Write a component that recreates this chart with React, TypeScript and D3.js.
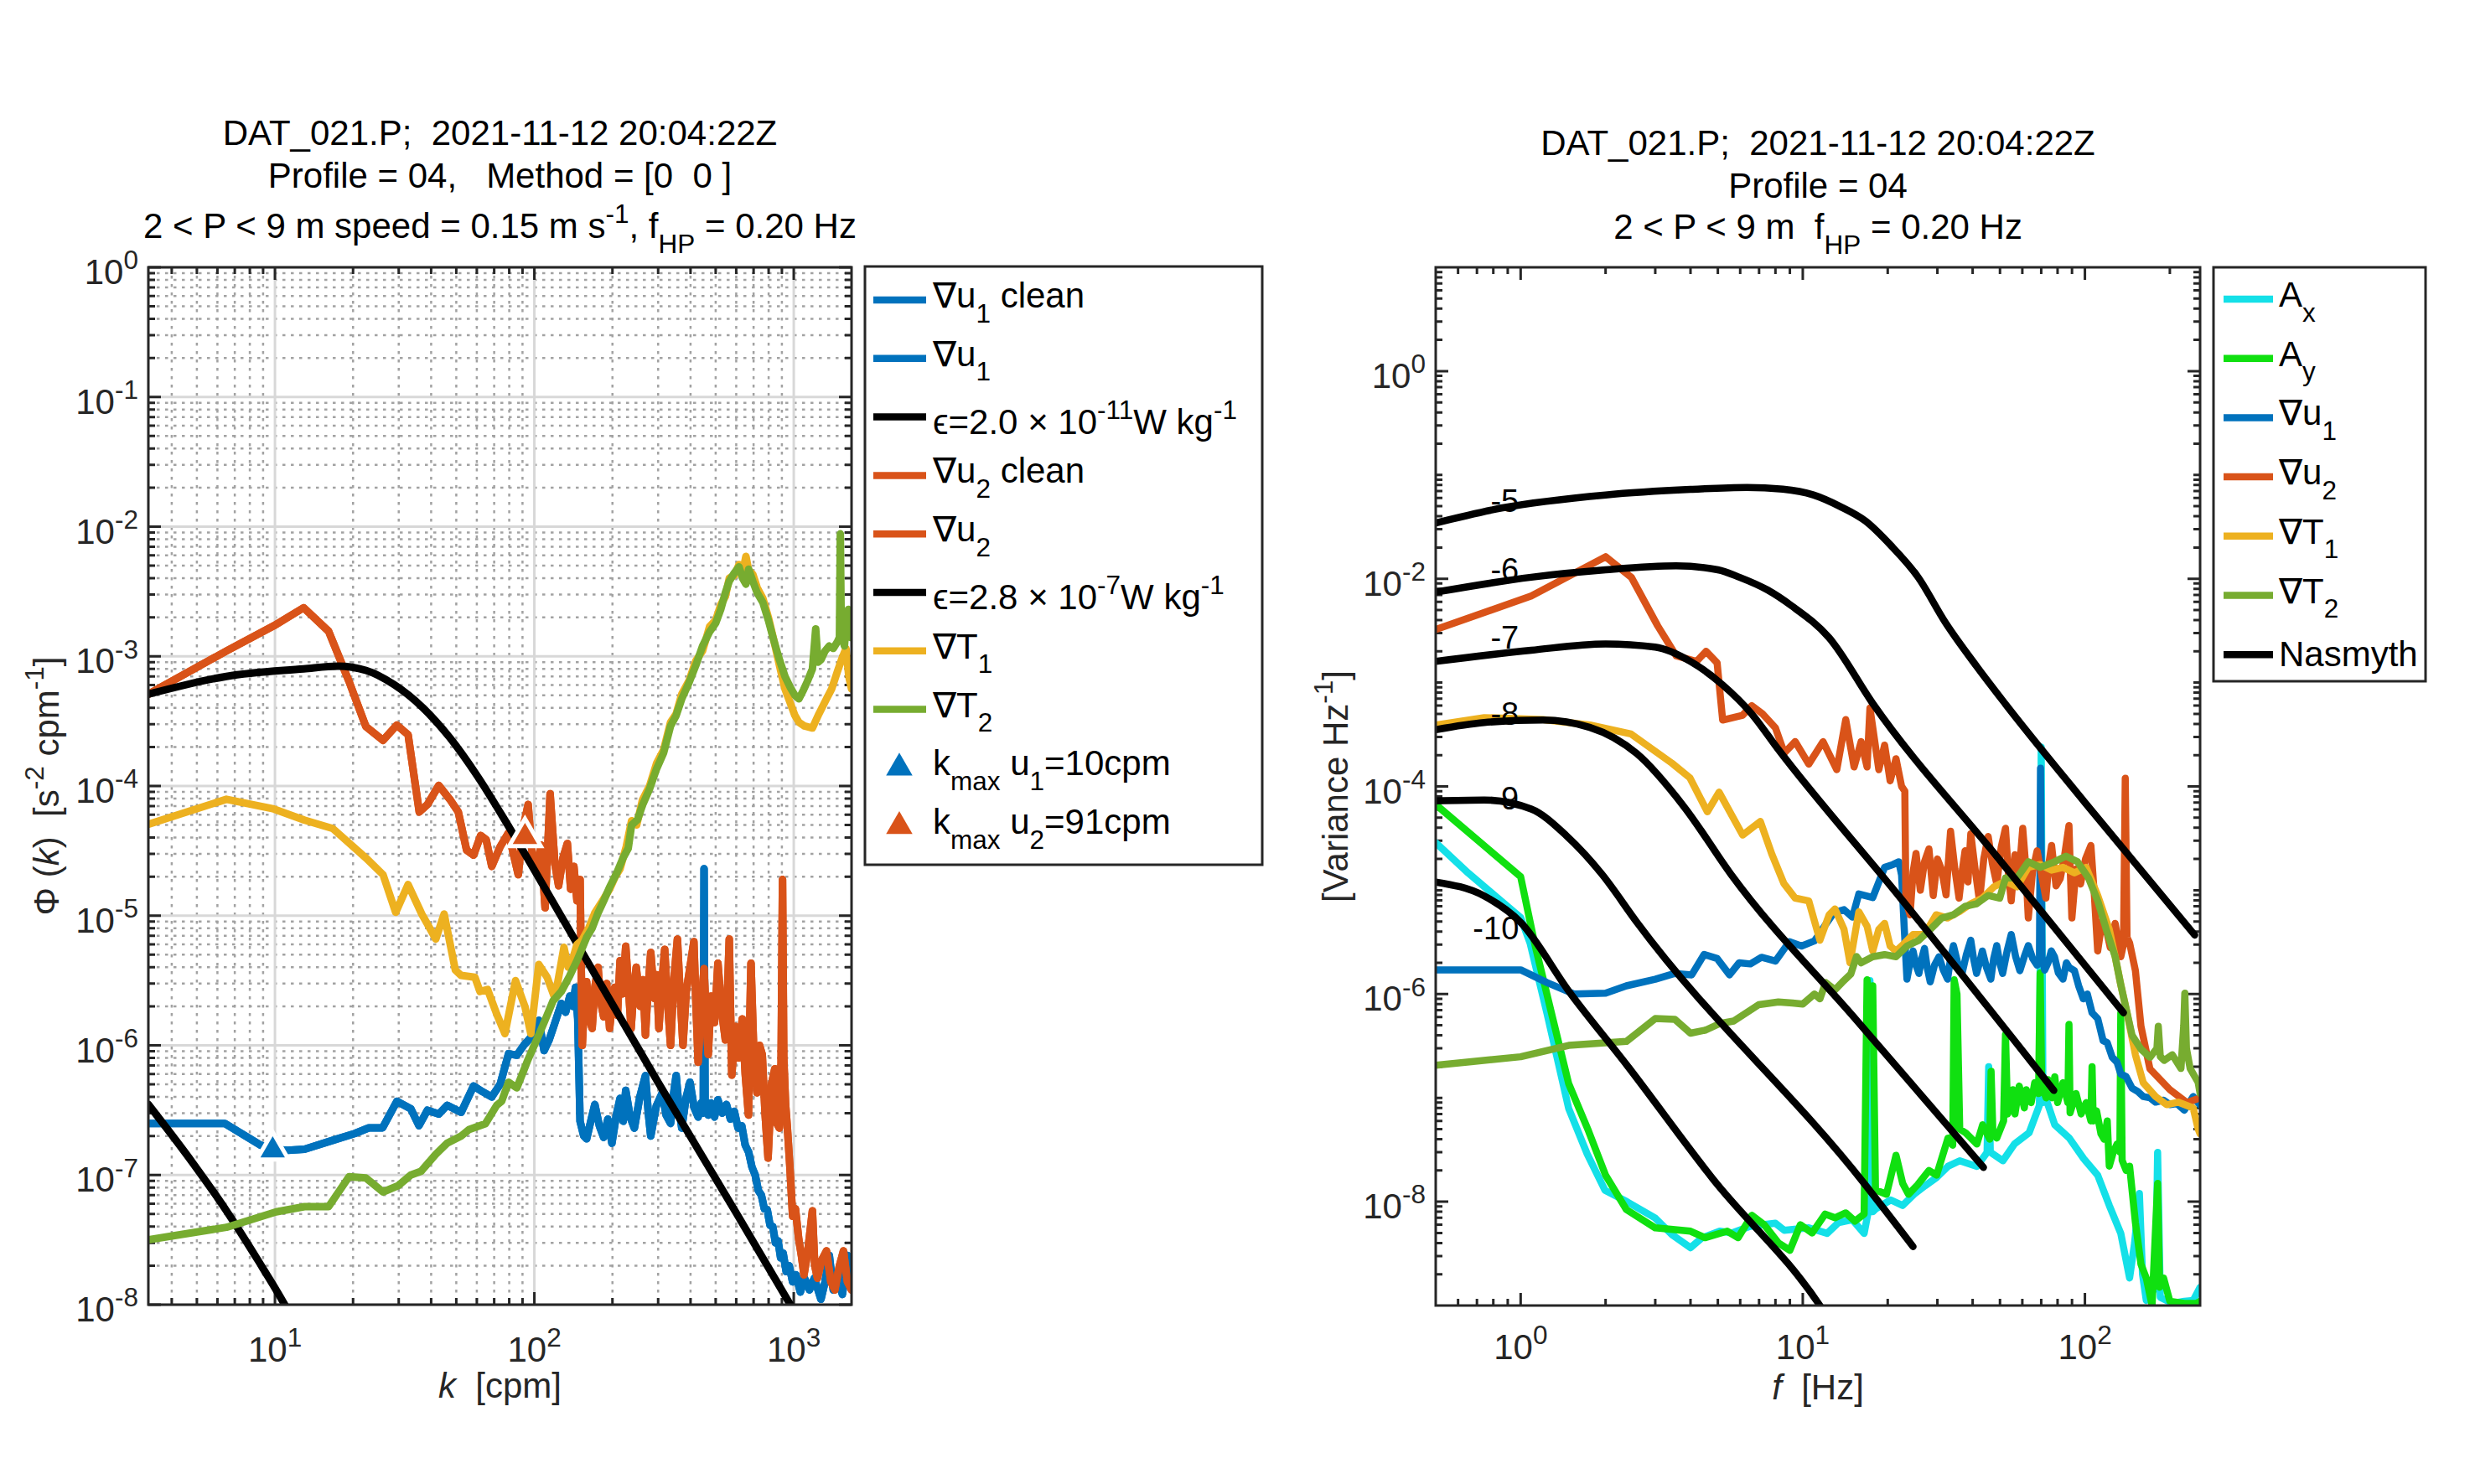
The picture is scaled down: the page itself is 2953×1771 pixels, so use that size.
import React from "react";
import * as d3 from "d3";

type Pt = [number, number];

// ---------------- left panel: wavenumber spectra ----------------
const leftTitle = [
  "DAT\\_021.P;  2021-11-12 20:04:22Z",
  "Profile = 04,   Method = [0  0 ]",
  "2 < P < 9 m speed = 0.15 m s^{-1}, f_{HP} = 0.20 Hz",
];
const kRange = [3.25, 1670];
const phiRange = [1e-8, 1];

const gradU1K: Pt[] = [
  [3.25, 2.5e-7], [6.4, 2.5e-7], [8.75, 1.71e-7], [9.7, 1.58e-7], [11.2, 1.55e-7], [13.0, 1.58e-7],
  [16.7, 1.85e-7], [20.3, 2.09e-7], [23.0, 2.31e-7], [26.0, 2.31e-7], [29.5, 3.7e-7], [33.4, 3.24e-7],
  [35.9, 2.4e-7], [38.7, 3.16e-7], [42.8, 2.95e-7], [46.1, 3.45e-7], [52.2, 3.04e-7], [58.3, 4.86e-7],
  [63, 4.4e-7], [68.5, 4.0e-7], [73.8, 5.0e-7], [79.5, 8.6e-7], [85.6, 8.4e-7], [91, 1.0e-6],
  [96.9, 1.15e-6], [104, 1.56e-6], [109, 9.1e-7], [114, 1.1e-6], [118, 1.35e-6], [127, 2.1e-6],
  [132, 1.8e-6], [137, 2.4e-6], [141, 2.0e-6], [144, 2.8e-6], [147, 1.6e-6], [150, 2.6e-7],
  [155, 2.0e-7], [159, 1.9e-7], [165, 2.6e-7], [171, 3.5e-7], [178, 2.4e-7], [185, 1.95e-7],
  [192, 2.7e-7], [199, 1.76e-7], [207, 2.9e-7], [214, 3.9e-7], [220, 2.6e-7], [225, 4.5e-7],
  [234, 2.8e-7], [243, 2.3e-7], [255, 4.0e-7], [268, 5.85e-7], [275, 3.0e-7], [281, 2.0e-7],
  [295, 3.4e-7], [311, 4.3e-7], [322, 2.9e-7], [335, 2.5e-7], [344, 4.2e-7], [352, 5.85e-7],
  [361, 3.3e-7], [370, 2.3e-7], [384, 3.9e-7], [398, 5.2e-7], [413, 3.3e-7], [428, 2.8e-7],
  [440, 3.6e-7], [448, 3.0e-7], [451, 2.3e-5], [455, 3.4e-7], [468, 2.9e-7], [480, 3.6e-7],
  [495, 2.8e-7], [510, 3.8e-7], [530, 3.0e-7], [550, 3.5e-7], [570, 2.7e-7], [590, 3.1e-7],
  [610, 2.3e-7], [630, 2.4e-7], [650, 1.7e-7], [670, 1.5e-7], [690, 1.15e-7], [710, 1.0e-7],
  [730, 7.6e-8], [750, 7.0e-8], [770, 5.5e-8], [790, 5.4e-8], [810, 4.1e-8], [830, 4.0e-8],
  [850, 3.0e-8], [870, 3.1e-8], [890, 2.3e-8], [910, 2.5e-8], [935, 1.8e-8], [960, 2.0e-8],
  [990, 1.5e-8], [1020, 1.7e-8], [1060, 1.25e-8], [1100, 1.6e-8], [1150, 1.3e-8], [1200, 1.6e-8],
  [1273, 1.1e-8], [1320, 1.5e-8], [1371, 2.4e-8], [1420, 1.3e-8], [1478, 1.6e-8], [1540, 1.2e-8],
  [1611, 2.4e-8], [1670, 1.7e-8],
];

const gradU2K: Pt[] = [
  [3.25, 5.1e-4], [6.5, 1.1e-3], [9.9, 1.72e-3], [12.9, 2.37e-3], [16.1, 1.56e-3], [19.3, 6.4e-4],
  [22.4, 2.88e-4], [26.1, 2.25e-4], [29.5, 2.95e-4], [32.6, 2.48e-4], [36.0, 6.3e-5], [38.7, 7.2e-5],
  [42.8, 1.01e-4], [47.2, 7.9e-5], [50.9, 6.3e-5], [54.8, 3.2e-5], [58.3, 2.93e-5], [62.1, 4.15e-5],
  [65.2, 3.85e-5], [68.5, 2.4e-5], [73.8, 3.4e-5], [79.5, 4.36e-5], [83, 3.0e-5], [86.7, 2.07e-5],
  [90, 4.5e-5], [94.6, 7.2e-5], [98, 3.0e-5], [102, 2.2e-5], [106, 3.5e-5], [110, 1.15e-5],
  [115, 8.7e-5], [120, 2.5e-5], [124, 1.7e-5], [129, 2.8e-5], [134, 3.6e-5], [138, 1.6e-5],
  [142, 2.4e-5], [146, 1.3e-5], [150, 1.9e-5], [153, 1.0e-6], [156, 2.2e-6], [159, 3.1e-6],
  [163, 1.6e-6], [167, 1.35e-6], [171, 2.8e-6], [176, 4.0e-6], [180, 2.2e-6], [185, 1.66e-6],
  [190, 3.0e-6], [195, 1.35e-6], [200, 2.2e-6], [204, 2.8e-6], [209, 1.7e-6], [214, 4.5e-6],
  [219, 2.5e-6], [225, 5.8e-6], [230, 3.0e-6], [236, 1.35e-6], [241, 2.5e-6], [247, 4.0e-6],
  [256, 2.0e-6], [262, 3.2e-6], [268, 1.2e-6], [274, 2.6e-6], [281, 5.2e-6], [290, 2.3e-6],
  [296, 3.5e-6], [302, 1.35e-6], [310, 3.0e-6], [318, 5.5e-6], [326, 2.2e-6], [335, 1.0e-6],
  [345, 3.2e-6], [356, 6.6e-6], [365, 2.4e-6], [374, 1.0e-6], [385, 2.6e-6], [398, 4.0e-6],
  [412, 6.3e-6], [420, 2.0e-6], [428, 7.4e-7], [440, 2.2e-6], [451, 3.9e-6], [460, 1.5e-6],
  [468, 8.5e-7], [480, 2.4e-6], [495, 1.5e-6], [510, 4.3e-6], [528, 1.8e-6], [545, 1.1e-6],
  [555, 2.5e-6], [564, 6.6e-6], [570, 2.0e-6], [577, 5.9e-7], [595, 1.4e-6], [612, 8.0e-7],
  [633, 1.6e-6], [650, 6.0e-7], [669, 2.9e-7], [676, 1.4e-6], [684, 4.3e-6], [700, 1.0e-6],
  [721, 4.3e-7], [738, 1.0e-6], [756, 8.5e-7], [775, 3.0e-7], [796, 1.35e-7], [820, 5.0e-7],
  [845, 6.6e-7], [860, 2.5e-7], [880, 2.3e-7], [893, 6.0e-7], [905, 1.9e-5], [915, 8.0e-7],
  [930, 3.5e-7], [945, 2.3e-7], [965, 1.2e-7], [990, 4.8e-8], [1015, 5.5e-8], [1045, 3.2e-8],
  [1070, 2.4e-8], [1095, 1.7e-8], [1130, 2.5e-8], [1180, 5.3e-8], [1205, 2.0e-8], [1234, 1.6e-8],
  [1280, 2.2e-8], [1337, 2.6e-8], [1390, 1.5e-8], [1440, 1.3e-8], [1500, 2.0e-8], [1555, 2.6e-8],
  [1610, 1.5e-8], [1670, 1.3e-8],
];

const gradT1K: Pt[] = [
  [3.25, 5.06e-5], [6.5, 7.9e-5], [9.9, 6.65e-5], [13.0, 5.45e-5], [16.7, 4.7e-5], [22.4, 2.79e-5],
  [26.1, 2.07e-5], [29.2, 1.06e-5], [32.6, 1.74e-5], [36.8, 1.03e-5], [41.7, 6.6e-6], [44.9, 1.03e-5],
  [49.6, 3.8e-6], [52.2, 3.46e-6], [59, 3.35e-6], [61.7, 2.6e-6], [66, 2.7e-6], [71.6, 1.74e-6],
  [77, 1.23e-6], [84.6, 3.16e-6], [91.9, 2.0e-6], [96.9, 1.23e-6], [104, 4.2e-6], [112, 3.35e-6],
  [120, 2.3e-6], [130, 5.7e-6], [135, 4.0e-6], [140, 4.5e-6], [146, 6.0e-6], [153, 6.5e-6],
  [162, 8.0e-6], [171, 1.05e-5], [183, 1.3e-5], [195, 1.6e-5], [205, 2.0e-5], [214, 2.3e-5],
  [226, 3.4e-5], [237, 5.4e-5], [248, 5.0e-5], [261, 7.8e-5], [278, 1.0e-4], [296, 1.5e-4],
  [315, 1.9e-4], [335, 3.1e-4], [352, 3.6e-4], [370, 5.1e-4], [395, 6.5e-4], [419, 9.2e-4],
  [445, 1.1e-3], [474, 1.7e-3], [500, 1.9e-3], [523, 2.5e-3], [545, 2.9e-3], [564, 4.0e-3],
  [590, 4.2e-3], [615, 5.1e-3], [635, 4.4e-3], [654, 5.9e-3], [670, 4.6e-3], [695, 4.3e-3],
  [722, 3.4e-3], [760, 2.8e-3], [798, 2.0e-3], [840, 1.3e-3], [881, 8.5e-4], [925, 5.6e-4],
  [972, 4.3e-4], [1010, 3.5e-4], [1047, 3.1e-4], [1100, 2.9e-4], [1180, 2.8e-4], [1250, 3.6e-4],
  [1337, 4.7e-4], [1400, 5.6e-4], [1475, 7.7e-4], [1530, 9.5e-4], [1590, 1.15e-3], [1630, 7.0e-4],
  [1670, 5.6e-4],
];

const gradT2K: Pt[] = [
  [3.25, 3.17e-8], [6.5, 3.95e-8], [10.1, 5.2e-8], [13.0, 5.7e-8], [16.1, 5.7e-8], [19.3, 9.7e-8],
  [22.4, 9.5e-8], [26.1, 7.4e-8], [29.9, 8.3e-8], [33.4, 1.0e-7], [36.6, 1.07e-7], [41.6, 1.44e-7],
  [46.1, 1.76e-7], [52.2, 2.0e-7], [56.0, 2.24e-7], [64.8, 2.49e-7], [71.6, 3.45e-7], [74.8, 3.7e-7],
  [79.5, 5.2e-7], [85.6, 4.7e-7], [94.6, 7.8e-7], [102, 1.1e-6], [109, 1.5e-6], [118, 2.2e-6],
  [127, 2.6e-6], [137, 3.45e-6], [146, 4.5e-6], [159, 6.8e-6], [167, 8.0e-6], [176, 1.05e-5],
  [185, 1.3e-5], [195, 1.66e-5], [207, 2.1e-5], [220, 2.8e-5], [230, 3.3e-5], [237, 5.0e-5],
  [250, 5.5e-5], [261, 7.1e-5], [278, 9.5e-5], [296, 1.36e-4], [315, 1.8e-4], [335, 2.9e-4],
  [352, 3.5e-4], [370, 4.7e-4], [395, 6.3e-4], [419, 8.5e-4], [445, 1.2e-3], [474, 1.55e-3],
  [500, 1.8e-3], [523, 2.3e-3], [545, 3.1e-3], [564, 3.8e-3], [590, 4.4e-3], [615, 4.9e-3],
  [635, 4.0e-3], [654, 3.6e-3], [670, 4.7e-3], [695, 3.8e-3], [722, 3.1e-3], [760, 2.6e-3],
  [798, 1.9e-3], [840, 1.3e-3], [881, 9.4e-4], [925, 7.0e-4], [972, 5.7e-4], [1010, 5.0e-4],
  [1047, 4.7e-4], [1090, 5.5e-4], [1128, 6.4e-4], [1180, 8.0e-4], [1215, 1.63e-3], [1240, 9.0e-4],
  [1273, 9.4e-4], [1320, 1.1e-3], [1370, 1.2e-3], [1420, 1.15e-3], [1475, 1.3e-3], [1500, 1.4e-3],
  [1512, 8.8e-3], [1525, 1.5e-3], [1568, 1.2e-3], [1600, 2.0e-3], [1623, 2.3e-3], [1650, 1.4e-3],
  [1670, 1.6e-3],
];

const nasmythLowK: Pt[] = [
  [3.25, 3.5e-7], [4.82, 1.24e-7], [6.5, 5.3e-8], [8.6, 2.2e-8], [10.9, 1.0e-8], [12.5, 6e-9],
];
const nasmythHighK: Pt[] = [
  [3.25, 5.1e-4], [6.5, 7.0e-4], [12.9, 8.0e-4], [17.5, 8.4e-4], [22.4, 7.8e-4], [28.8, 6.05e-4],
  [36.9, 4.07e-4], [47.2, 2.36e-4], [60.5, 1.18e-4], [77.6, 5.3e-5], [99.3, 2.3e-5], [144, 6.4e-6],
  [303, 5.0e-7], [600, 5.1e-8], [970, 1.0e-8], [1100, 6.5e-9],
];

const kmaxK = [9.8, 92];
const kmaxPhi = [1.55e-7, 4.05e-5];

const leftLegendLabels = [
  "∇u_{1} clean", "∇u_{1}", "ϵ=2.0 × 10^{-11}W kg^{-1}", "∇u_{2} clean", "∇u_{2}",
  "ϵ=2.8 × 10^{-7}W kg^{-1}", "∇T_{1}", "∇T_{2}", "k_{max} u_{1}=10cpm", "k_{max} u_{2}=91cpm",
];

// ---------------- right panel: frequency spectra ----------------
const rightTitle = [
  "DAT\\_021.P;  2021-11-12 20:04:22Z",
  "Profile = 04",
  "2 < P < 9 m  f_{HP} = 0.20 Hz",
];
const fRange = [0.5, 256];
const varRange = [1e-9, 10];

const accXF: Pt[] = [
  [0.5, 2.87e-5], [0.653, 1.46e-5], [1.0, 5.45e-6], [1.08, 3.1e-6], [1.24, 6.5e-7], [1.48, 7.9e-8],
  [1.72, 2.9e-8], [1.99, 1.29e-8], [2.38, 1.0e-8], [3.0, 6.95e-9], [3.44, 4.8e-9], [4.0, 3.6e-9],
  [4.4, 4.5e-9], [5.08, 5.2e-9], [5.6, 5.0e-9], [6.5, 5.8e-9], [8.0, 6.2e-9], [8.6, 5.3e-9],
  [10.5, 5.6e-9], [12.2, 4.95e-9], [13.4, 6.3e-9], [15.0, 6.7e-9], [16.5, 4.95e-9], [17.0, 7.6e-9],
  [17.3, 1.35e-6], [17.7, 8e-9], [18.2, 8.6e-9], [20.5, 1.04e-8], [22.6, 9.2e-9], [24.8, 1.18e-8],
  [27.1, 1.42e-8], [29.8, 1.71e-8], [32.7, 2.19e-8], [36.0, 2.48e-8], [41.4, 2.19e-8], [45.0, 2.98e-8],
  [45.6, 2.0e-7], [46.2, 3.0e-8], [51.2, 2.48e-8], [56.3, 3.6e-8], [63.4, 4.6e-8], [69.0, 8.5e-8],
  [70.0, 2.4e-4], [71.0, 9e-8], [72.9, 9.7e-8], [78.2, 5.5e-8], [88, 4.1e-8], [99, 2.6e-8],
  [111, 1.8e-8], [122, 9.2e-9], [134, 4.95e-9], [144, 1.84e-9], [150, 4e-9], [156, 1.2e-8],
  [160, 2e-9], [165, 1.12e-9], [178, 1.5e-9], [181, 2.98e-8], [185, 1.2e-9], [204, 1.05e-9],
  [225, 1.1e-9], [242, 1.12e-9], [256, 1.5e-9],
];

const accYF: Pt[] = [
  [0.5, 6.7e-5], [1.0, 1.35e-5], [1.12, 3.1e-6], [1.3, 5.8e-7], [1.48, 1.37e-7], [1.74, 4.8e-8],
  [2.0, 1.8e-8], [2.37, 8.4e-9], [3.0, 5.6e-9], [4.0, 5.2e-9], [4.5, 4.5e-9], [5.4, 5.2e-9],
  [5.9, 4.5e-9], [6.6, 7.4e-9], [7.3, 6.0e-9], [8.2, 4.0e-9], [9.0, 3.4e-9], [9.8, 6.0e-9],
  [10.8, 5.0e-9], [12, 7.6e-9], [13, 7.0e-9], [14.2, 7.8e-9], [15.3, 6.5e-9], [16.5, 7.6e-9],
  [16.9, 1.37e-6], [17.3, 8e-7], [17.7, 1.2e-6], [18.1, 1.3e-8], [19.8, 1.18e-8], [21.4, 2.8e-8],
  [22.6, 1.5e-8], [23.7, 1.18e-8], [25.5, 1.45e-8], [28, 2.0e-8], [29.8, 1.8e-8], [32.7, 4.1e-8],
  [34.0, 3.5e-8], [34.4, 1.37e-6], [35.2, 1.0e-6], [36, 5e-8], [37.8, 4.6e-8], [41.4, 3.6e-8],
  [43.4, 5.5e-8], [46.0, 4.0e-8], [46.5, 1.8e-7], [47.2, 4.5e-8], [48.7, 4.1e-8], [51.5, 6.0e-8],
  [52.3, 4.1e-7], [53.2, 7.0e-8], [54.8, 8.5e-8], [55.5, 1.2e-7], [56.5, 7e-8], [58.5, 1.3e-7],
  [61, 8e-8], [62, 1.2e-7], [64.5, 9e-8], [66.4, 1.4e-7], [68.5, 1.1e-7], [69.4, 1.6e-6],
  [70.3, 1.3e-7], [72.9, 1.0e-7], [74, 1.5e-7], [76.5, 1.0e-7], [78.2, 1.6e-7], [80, 9e-8],
  [83.6, 1.4e-7], [87.0, 9e-8], [87.8, 5.1e-7], [88.6, 7.2e-8], [93, 1.1e-7], [97, 7e-8],
  [101, 9e-8], [105, 6e-8], [106, 2.0e-7], [107, 6e-8], [110, 7.5e-8], [114, 4.5e-8], [117, 4e-8],
  [120, 6e-8], [122, 2.2e-8], [126, 3e-8], [130, 3.6e-8], [133, 3e-8], [134, 6.6e-7], [135.5, 2.5e-8],
  [140, 2e-8], [144, 2.2e-8], [151, 6.3e-9], [158, 2.5e-9], [165, 1.84e-9], [173, 1.0e-9],
  [181, 1.5e-8], [184, 1.5e-9], [190, 1.84e-9], [200, 1.1e-9], [225, 1.05e-9], [248, 1.05e-9],
  [256, 1.1e-9],
];

const gradU1F: Pt[] = [
  [0.5, 1.71e-6], [1.0, 1.71e-6], [1.24, 1.29e-6], [1.55, 1.0e-6], [2.0, 1.02e-6], [2.37, 1.2e-6],
  [3.0, 1.39e-6], [3.52, 1.58e-6], [4.04, 1.53e-6], [4.47, 2.41e-6], [4.97, 2.2e-6], [5.5, 1.53e-6],
  [5.95, 2.0e-6], [6.52, 1.95e-6], [7.14, 2.26e-6], [8.0, 2.08e-6], [8.96, 3.19e-6], [9.9, 2.9e-6],
  [11.0, 3.25e-6], [12.0, 4.6e-6], [12.9, 6.1e-6], [14.0, 6.5e-6], [15.0, 5.5e-6], [15.8, 9.2e-6],
  [17.7, 8.5e-6], [19.5, 1.66e-5], [20.9, 1.77e-5], [21.9, 1.88e-5], [22.4, 1.4e-5], [22.9, 4.2e-6],
  [23.4, 1.39e-6], [24.0, 2.0e-6], [24.6, 2.6e-6], [25.2, 1.9e-6], [25.8, 1.58e-6], [26.4, 2.2e-6],
  [27.0, 2.75e-6], [27.6, 1.8e-6], [28.3, 1.31e-6], [29.3, 1.9e-6], [30.4, 2.29e-6], [31.5, 1.7e-6],
  [32.6, 1.39e-6], [33.4, 2.2e-6], [34.2, 2.93e-6], [35.4, 2.0e-6], [36.7, 1.58e-6], [38.0, 2.4e-6],
  [39.4, 3.3e-6], [40.3, 2.2e-6], [41.3, 1.58e-6], [42.3, 2.0e-6], [43.3, 2.6e-6], [44.8, 1.8e-6],
  [46.4, 1.39e-6], [47.5, 2.2e-6], [48.7, 2.93e-6], [49.9, 2.0e-6], [51.1, 1.58e-6], [53, 2.6e-6],
  [54.8, 3.75e-6], [56.8, 2.3e-6], [58.8, 1.68e-6], [61, 2.3e-6], [63.0, 2.93e-6], [65.3, 2.2e-6],
  [67.7, 1.9e-6], [69.0, 2.2e-6], [69.6, 1.5e-4], [70.4, 2.3e-6], [72, 1.7e-6], [74, 2.0e-6],
  [76, 2.6e-6], [78.0, 2.29e-6], [80.5, 1.6e-6], [83.6, 1.39e-6], [86, 2.0e-6], [88, 1.8e-6],
  [91.8, 1.68e-6], [95, 1.2e-6], [98.7, 9.0e-7], [102, 1.0e-6], [106, 6.6e-7], [111, 5.8e-7],
  [116, 3.56e-7], [120, 3.4e-7], [125, 2.46e-7], [130, 2.2e-7], [134, 1.7e-7], [140, 1.6e-7],
  [147, 1.24e-7], [154, 1.15e-7], [161, 1.03e-7], [170, 1.0e-7], [178, 9.1e-8], [190, 9.5e-8],
  [200, 8.6e-8], [212, 8.8e-8], [225, 7.6e-8], [242, 1.03e-7], [256, 8.5e-8],
];

const gradU2F: Pt[] = [
  [0.5, 3.24e-3], [1.09, 6.84e-3], [2.0, 0.0163], [2.47, 0.0103], [3.06, 3.52e-3], [3.56, 1.81e-3],
  [4.2, 1.6e-3], [4.54, 2.0e-3], [4.97, 1.55e-3], [5.2, 4.36e-4], [6.12, 4.85e-4], [6.59, 6.0e-4],
  [7.2, 5.0e-4], [8.0, 3.67e-4], [8.6, 2.1e-4], [9.4, 2.7e-4], [10.5, 1.64e-4], [11.8, 2.7e-4],
  [13.2, 1.45e-4], [14.2, 4.4e-4], [15.2, 1.54e-4], [16.1, 2.7e-4], [16.9, 1.54e-4], [17.3, 5.7e-4],
  [18.6, 1.45e-4], [19.5, 2.5e-4], [20.4, 1.13e-4], [21.4, 1.85e-4], [22.4, 1.0e-4], [23.0, 9e-5],
  [23.2, 7.9e-6], [24.0, 5.8e-6], [24.6, 1.5e-5], [25.2, 2.26e-5], [26.1, 1.0e-5], [27.0, 1.88e-5],
  [28.0, 2.5e-5], [29.0, 8.9e-6], [30.0, 2.0e-5], [31.1, 1.56e-5], [32.2, 9e-6], [33.4, 3.7e-5],
  [34.6, 1.6e-5], [35.8, 8.4e-6], [36.7, 1.5e-5], [37.6, 2.4e-5], [38.5, 1.2e-5], [39.4, 3.5e-5],
  [40.8, 1.6e-5], [42.3, 7.9e-6], [43.8, 2.0e-5], [45.4, 3.3e-5], [47.0, 1.8e-5], [48.7, 1.15e-5],
  [50.5, 2.6e-5], [52.3, 3.95e-5], [53.5, 1.5e-5], [54.8, 7.9e-6], [56.5, 2.2e-5], [58.3, 1.3e-5],
  [60.2, 3.95e-5], [61.6, 1.8e-5], [63.0, 5.4e-6], [65.2, 1.5e-5], [67.7, 2.4e-5], [70.2, 1.4e-5],
  [72.7, 8.4e-6], [74.5, 1.8e-5], [76.2, 2.7e-5], [79, 1.1e-5], [81.8, 1.3e-5], [84.8, 2.2e-5],
  [87.8, 4.2e-5], [88.8, 1.5e-5], [89.9, 5.4e-6], [93, 1.6e-5], [96.5, 1.15e-5], [100.5, 2.0e-5],
  [105, 2.7e-5], [108, 9e-6], [111, 2.6e-6], [115, 5e-6], [119, 4.2e-6], [123, 2.8e-6],
  [128, 4.8e-6], [134, 2.29e-6], [137, 3e-6], [139, 1.2e-4], [141, 3.5e-6], [144, 3.1e-6],
  [151, 1.68e-6], [158, 4.9e-7], [170, 1.9e-7], [200, 1.2e-7], [230, 9e-8], [256, 1.0e-7],
];

const gradT1F: Pt[] = [
  [0.5, 3.9e-4], [0.743, 4.6e-4], [1.2, 4.4e-4], [1.76, 3.9e-4], [2.46, 3.2e-4], [3.44, 1.67e-4],
  [3.98, 1.21e-4], [4.59, 5.7e-5], [5.05, 8.8e-5], [6.12, 3.4e-5], [7.07, 4.6e-5], [7.78, 2.2e-5],
  [8.57, 1.16e-5], [9.4, 8.4e-6], [10.5, 7.9e-6], [11.5, 3.3e-6], [12.4, 5.8e-6], [13.0, 6.6e-6],
  [14.0, 4.2e-6], [14.7, 2.0e-6], [15.8, 6.2e-6], [16.9, 4.5e-6], [17.7, 2.6e-6], [18.6, 4.2e-6],
  [19.5, 4.8e-6], [20.4, 2.9e-6], [21.4, 2.6e-6], [22.4, 2.9e-6], [24.6, 3.75e-6], [27.0, 3.75e-6],
  [29.7, 5.8e-6], [32.6, 5.4e-6], [35.8, 6.2e-6], [39.4, 7.4e-6], [43.3, 8.4e-6], [47.6, 1.08e-5],
  [52.3, 1.22e-5], [57.4, 1.08e-5], [63.0, 1.66e-5], [69.4, 1.77e-5], [76.2, 1.56e-5], [83.6, 1.66e-5],
  [91.8, 1.47e-5], [101, 1.66e-5], [111, 8.9e-6], [122, 4.2e-6], [128, 2.29e-6], [134, 1.23e-6],
  [141, 6.6e-7], [151, 2.6e-7], [161, 1.4e-7], [178, 1.03e-7], [195, 8.6e-8], [214, 9.1e-8],
  [242, 8.0e-8], [252, 5e-8], [256, 4.5e-8],
];

const gradT2F: Pt[] = [
  [0.5, 2.06e-7], [1.0, 2.49e-7], [1.48, 3.2e-7], [2.37, 3.5e-7], [3.0, 5.8e-7], [3.52, 5.7e-7],
  [4.0, 4.2e-7], [4.53, 4.5e-7], [5.08, 5.2e-7], [5.69, 5.5e-7], [6.98, 7.9e-7], [8.19, 8.4e-7],
  [9.2, 8.2e-7], [10.0, 8.0e-7], [11.0, 1.0e-6], [11.5, 9.0e-7], [12.05, 1.29e-6], [13.0, 1.1e-6],
  [13.8, 1.3e-6], [14.8, 1.56e-6], [15.5, 2.3e-6], [16.1, 2.0e-6], [17.7, 2.29e-6], [19.5, 2.4e-6],
  [21.4, 2.29e-6], [23.4, 2.9e-6], [25.8, 3.3e-6], [28.3, 4.2e-6], [31.1, 5.4e-6], [34.2, 5.8e-6],
  [37.6, 7.0e-6], [41.3, 7.4e-6], [45.4, 8.9e-6], [49.9, 8.4e-6], [52.3, 1.31e-5], [57.4, 1.31e-5],
  [63.0, 1.88e-5], [69.4, 1.66e-5], [78.0, 1.88e-5], [85.7, 2.13e-5], [94.1, 1.88e-5], [103, 1.31e-5],
  [111, 7.9e-6], [119, 4.2e-6], [128, 2.29e-6], [134, 1.23e-6], [141, 6.6e-7], [147, 4.0e-7],
  [158, 2.95e-7], [170, 2.46e-7], [180, 3e-7], [182, 4.9e-7], [185, 2.5e-7], [191, 2.3e-7],
  [204, 2.6e-7], [219, 1.92e-7], [224, 5e-7], [226, 1.02e-6], [229, 3e-7], [236, 1.92e-7],
  [252, 1.41e-7], [256, 1.1e-7],
];

// Nasmyth curves for log10(epsilon) = -5 ... -10
const nasmythF: Pt[][] = [
  [[0.5, 0.0345], [0.855, 0.048], [2.0, 0.0642], [4.0, 0.0725], [6.34, 0.0759], [8.5, 0.073],
   [10.9, 0.0642], [13.5, 0.05], [16.7, 0.0359], [20.5, 0.021], [25.6, 0.0104], [32, 3.8e-3],
   [41.6, 1.4e-3], [52.3, 6.2e-4], [100, 7.0e-5], [245, 3.7e-6]],
  [[0.5, 7.43e-3], [1.09, 0.01035], [2.0, 0.0122], [3.56, 0.0133], [5.0, 0.0122], [5.96, 0.01035],
   [7.5, 7.8e-3], [9.12, 5.5e-3], [12.4, 2.7e-3], [17.7, 6.3e-4], [48.7, 2.12e-5], [137, 6.6e-7]],
  [[0.5, 1.6e-3], [1.09, 2.05e-3], [2.0, 2.36e-3], [3.0, 2.2e-3], [4.0, 1.6e-3], [5.2, 9.5e-4],
   [6.59, 5.0e-4], [8.16, 2.3e-4], [21.9, 8.8e-6], [77.6, 1.18e-7]],
  [[0.5, 3.52e-4], [0.743, 4.13e-4], [1.2, 4.36e-4], [1.76, 3.7e-4], [2.58, 2.07e-4], [3.79, 6.4e-5],
   [5.56, 1.43e-5], [15.6, 5.5e-7], [43.7, 2.14e-8]],
  [[0.5, 7.26e-5], [0.743, 7.4e-5], [1.09, 6.05e-5], [1.45, 3.37e-5], [1.94, 1.43e-5], [2.58, 4.93e-6],
   [16.6, 1.47e-8], [24.6, 3.69e-9]],
  [[0.5, 1.2e-5], [0.743, 8.8e-6], [1.0, 4.9e-6], [1.48, 1.07e-6], [2.37, 2.1e-7], [4.8, 1.66e-8],
   [11.5, 1.0e-9], [13, 6e-10]],
];
const nasmythLabels = ["-5", "-6", "-7", "-8", "-9", "-10"];
const nasmythLabelVar = [0.0441, 9.6e-3, 2.13e-3, 3.93e-4, 6.0e-5, 3.37e-6];
const nasmythLabelF = 0.986;

const rightLegendLabels = ["A_{x}", "A_{y}", "∇u_{1}", "∇u_{2}", "∇T_{1}", "∇T_{2}", "Nasmyth"];

// ---------------- styling ----------------
const W = 2953;
const H = 1771;
const FONT = "'Liberation Sans', Arial, Helvetica, 'DejaVu Sans', sans-serif";
const AXC = "#262626";
const COL = {
  blue: "#0072BD", orange: "#D95319", yellow: "#EDB120", green: "#77AC30",
  cyan: "#14E0E8", lime: "#10E010", black: "#000000",
};
const LBOX = { x: 177, y: 319, w: 839, h: 1238 };
const RBOX = { x: 1713, y: 319, w: 912, h: 1239 };
const LW_LEFT = 9;
const LW_RIGHT = 8.5;

type Part = { t: string; s: number; it?: boolean };

// tiny TeX-ish parser: ^{..} superscript, _{..} subscript, $..$ italic, \_ literal underscore
function parseTex(src: string): Part[] {
  const out: Part[] = [];
  let buf = "";
  let i = 0;
  const flush = () => {
    if (buf) out.push({ t: buf, s: 0 });
    buf = "";
  };
  while (i < src.length) {
    const c = src[i];
    if (c === "\\" && src[i + 1] === "_") { buf += "_"; i += 2; continue; }
    if (c === "^" || c === "_") {
      flush();
      let t = "";
      if (src[i + 1] === "{") {
        const j = src.indexOf("}", i);
        t = src.slice(i + 2, j);
        i = j + 1;
      } else {
        t = src[i + 1];
        i += 2;
      }
      out.push({ t, s: c === "^" ? 1 : -1 });
      continue;
    }
    if (c === "$") {
      flush();
      const j = src.indexOf("$", i + 1);
      out.push({ t: src.slice(i + 1, j), s: 0, it: true });
      i = j + 1;
      continue;
    }
    buf += c;
    i++;
  }
  flush();
  return out;
}

function Tex({ s, x, y, size, anchor = "start", rotate = 0, fill = AXC }: any) {
  const parts = parseTex(s);
  let cur = 0;
  return (
    <text
      x={x} y={y} fontSize={size} textAnchor={anchor} fill={fill}
      transform={rotate ? `rotate(${rotate} ${x} ${y})` : undefined}
      style={{ whiteSpace: "pre" }}
    >
      {parts.map((p, i) => {
        const target = p.s === 1 ? -0.42 * size : p.s === -1 ? 0.42 * size : 0;
        const dy = target - cur;
        cur = target;
        return (
          <tspan key={i} dy={dy} fontSize={p.s ? size * 0.75 : size} fontStyle={p.it ? "italic" : undefined}>
            {p.t}
          </tspan>
        );
      })}
    </text>
  );
}

function logTicks(dom: number[]) {
  const [lo, hi] = dom;
  const major: number[] = [];
  const minor: number[] = [];
  for (let e = Math.floor(Math.log10(lo)); e <= Math.ceil(Math.log10(hi)); e++) {
    for (let m = 1; m <= 9; m++) {
      const v = m * Math.pow(10, e);
      if (m === 1) {
        if (v >= lo * 0.999 && v <= hi * 1.001) major.push(v);
      } else if (v > lo * 1.001 && v < hi * 0.999) minor.push(v);
    }
  }
  return { major, minor };
}

const expOf = (v: number) => Math.round(Math.log10(v));

function Frame({ box, xs, ys, grid, yEvery, xLabY }: any) {
  const xt = logTicks(xs.domain());
  const yt = logTicks(ys.domain());
  const inside = (v: number) => v > ys.domain()[0] * 1.001 && v < ys.domain()[1] * 0.999;
  const yMajor = yt.major.filter((v) => Math.abs(expOf(v)) % yEvery === 0);
  const yMinor = yt.minor.concat(yt.major.filter((v) => Math.abs(expOf(v)) % yEvery !== 0 && inside(v)));
  const bottom = box.y + box.h;
  const right = box.x + box.w;
  const MJ = 15;
  const MN = 8;
  let ticks = "";
  xt.major.forEach((v) => {
    const x = xs(v);
    ticks += `M${x},${bottom}V${bottom - MJ}M${x},${box.y}V${box.y + MJ}`;
  });
  xt.minor.forEach((v) => {
    const x = xs(v);
    ticks += `M${x},${bottom}V${bottom - MN}M${x},${box.y}V${box.y + MN}`;
  });
  yMajor.forEach((v) => {
    const y = ys(v);
    ticks += `M${box.x},${y}H${box.x + MJ}M${right},${y}H${right - MJ}`;
  });
  yMinor.forEach((v) => {
    const y = ys(v);
    ticks += `M${box.x},${y}H${box.x + MN}M${right},${y}H${right - MN}`;
  });
  return (
    <g>
      <rect x={box.x} y={box.y} width={box.w} height={box.h} fill="#fff" />
      {grid && (
        <g>
          {xt.minor.map((v) => (
            <line key={"gx" + v} x1={xs(v)} x2={xs(v)} y1={box.y} y2={bottom}
              stroke="#a2a2a2" strokeWidth={2.5} strokeDasharray="3.5 6.5" />
          ))}
          {yt.minor.map((v) => (
            <line key={"gy" + v} x1={box.x} x2={right} y1={ys(v)} y2={ys(v)}
              stroke="#a2a2a2" strokeWidth={2.5} strokeDasharray="3.5 6.5" />
          ))}
          {xt.major.map((v) => (
            <line key={"Gx" + v} x1={xs(v)} x2={xs(v)} y1={box.y} y2={bottom} stroke="#d8d8d8" strokeWidth={3} />
          ))}
          {yt.major.map((v) => (
            <line key={"Gy" + v} x1={box.x} x2={right} y1={ys(v)} y2={ys(v)} stroke="#d8d8d8" strokeWidth={3} />
          ))}
        </g>
      )}
      <path d={ticks} stroke={AXC} strokeWidth={3} fill="none" />
      {xt.major.map((v) => (
        <Tex key={"xl" + v} s={`10^{${expOf(v)}}`} x={xs(v)} y={xLabY} size={42} anchor="middle" />
      ))}
      {yMajor.map((v) => (
        <Tex key={"yl" + v} s={`10^{${expOf(v)}}`} x={box.x - 12} y={ys(v) + 20} size={42} anchor="end" />
      ))}
    </g>
  );
}

function Legend({ box, labels, colors, markers, first, step, lineX, textX, markerX }: any) {
  const tri = d3.symbol(d3.symbolTriangle, 430)() as string;
  return (
    <g>
      <rect x={box.x} y={box.y} width={box.w} height={box.h} fill="#fff" stroke={AXC} strokeWidth={3} />
      {labels.map((lab: string, i: number) => {
        const cy = first + i * step;
        const hasSup = lab.includes("^");
        const hasSub = lab.includes("_");
        const base = cy + (hasSup ? 20 : hasSub ? 9 : 14);
        return (
          <g key={i}>
            {markers[i] ? (
              <path d={tri} transform={`translate(${markerX},${cy})`} fill={colors[i]} />
            ) : (
              <line x1={lineX[0]} x2={lineX[1]} y1={cy} y2={cy} stroke={colors[i]} strokeWidth={8.5} />
            )}
            <Tex s={lab} x={textX} y={base} size={42} fill="#000" />
          </g>
        );
      })}
    </g>
  );
}

export default function App() {
  const kx = d3.scaleLog().domain(kRange).range([LBOX.x, LBOX.x + LBOX.w]);
  const ky = d3.scaleLog().domain(phiRange).range([LBOX.y + LBOX.h, LBOX.y]);
  const fx = d3.scaleLog().domain(fRange).range([RBOX.x, RBOX.x + RBOX.w]);
  const fy = d3.scaleLog().domain(varRange).range([RBOX.y + RBOX.h, RBOX.y]);

  const lineK = d3.line<Pt>().x((d) => kx(d[0])).y((d) => ky(d[1]));
  const smoothK = d3.line<Pt>().x((d) => kx(d[0])).y((d) => ky(d[1])).curve(d3.curveMonotoneX);
  const lineF = d3.line<Pt>().x((d) => fx(d[0])).y((d) => fy(d[1]));
  const smoothF = d3.line<Pt>().x((d) => fx(d[0])).y((d) => fy(d[1])).curve(d3.curveMonotoneX);

  const leftSeries: [string, string][] = [
    [lineK(gradU1K)!, COL.blue],
    [lineK(gradU1K)!, COL.blue],
    [smoothK(nasmythLowK)!, COL.black],
    [lineK(gradU2K)!, COL.orange],
    [lineK(gradU2K)!, COL.orange],
    [smoothK(nasmythHighK)!, COL.black],
    [lineK(gradT1K)!, COL.yellow],
    [lineK(gradT2K)!, COL.green],
  ];
  const rightSeries: [string, string][] = [
    [lineF(accXF)!, COL.cyan],
    [lineF(accYF)!, COL.lime],
    [lineF(gradU1F)!, COL.blue],
    [lineF(gradU2F)!, COL.orange],
    [lineF(gradT1F)!, COL.yellow],
    [lineF(gradT2F)!, COL.green],
    ...nasmythF.map((c) => [smoothF(c)!, COL.black] as [string, string]),
  ];
  const tri = d3.symbol(d3.symbolTriangle, 620)() as string;
  const lcx = LBOX.x + LBOX.w / 2;
  const rcx = RBOX.x + RBOX.w / 2;

  return (
    <svg width={W} height={H} viewBox={`0 0 ${W} ${H}`} fontFamily={FONT}
      style={{ position: "absolute", left: 0, top: 0, background: "#fff" }}>
      <rect width={W} height={H} fill="#fff" />
      <defs>
        <clipPath id="clipL"><rect x={LBOX.x} y={LBOX.y} width={LBOX.w} height={LBOX.h} /></clipPath>
        <clipPath id="clipR"><rect x={RBOX.x} y={RBOX.y} width={RBOX.w} height={RBOX.h} /></clipPath>
      </defs>

      {/* left panel */}
      <Frame box={LBOX} xs={kx} ys={ky} grid yEvery={1} xLabY={1625} />
      <g clipPath="url(#clipL)" fill="none" strokeLinejoin="round" strokeLinecap="round">
        {leftSeries.map(([d, c], i) => <path key={i} d={d} stroke={c} strokeWidth={LW_LEFT} />)}
        {kmaxK.map((k, i) => (
          <path key={"m" + i} d={tri} transform={`translate(${kx(k)},${ky(kmaxPhi[i])})`}
            fill={i === 0 ? COL.blue : COL.orange} stroke="#fff" strokeWidth={5} strokeLinejoin="miter" />
        ))}
      </g>
      <rect x={LBOX.x} y={LBOX.y} width={LBOX.w} height={LBOX.h} fill="none" stroke={AXC} strokeWidth={3} />
      {leftTitle.map((t, i) => (
        <Tex key={i} s={t} x={lcx} y={[173, 224, 284][i]} size={42} anchor="middle" fill="#000" />
      ))}
      <Tex s="$k$  [cpm]" x={lcx} y={1668} size={42} anchor="middle" />
      <Tex s="Φ ($k$)  [s^{-2} cpm^{-1}]" x={70} y={LBOX.y + LBOX.h / 2} size={42} anchor="middle" rotate={-90} />
      <Legend
        box={{ x: 1032, y: 318, w: 474, h: 714 }}
        labels={leftLegendLabels}
        colors={[COL.blue, COL.blue, COL.black, COL.orange, COL.orange, COL.black, COL.yellow, COL.green, COL.blue, COL.orange]}
        markers={[0, 0, 0, 0, 0, 0, 0, 0, 1, 1]}
        first={358} step={69.8} lineX={[1042, 1105]} textX={1113} markerX={1073}
      />

      {/* right panel */}
      <Frame box={RBOX} xs={fx} ys={fy} grid={false} yEvery={2} xLabY={1622} />
      <g clipPath="url(#clipR)" fill="none" strokeLinejoin="round" strokeLinecap="round">
        {rightSeries.map(([d, c], i) => <path key={i} d={d} stroke={c} strokeWidth={LW_RIGHT} />)}
      </g>
      <rect x={RBOX.x} y={RBOX.y} width={RBOX.w} height={RBOX.h} fill="none" stroke={AXC} strokeWidth={3} />
      {nasmythLabels.map((t, i) => (
        <text key={t} x={fx(nasmythLabelF)} y={fy(nasmythLabelVar[i])} fontSize={38} textAnchor="end" fill="#000">{t}</text>
      ))}
      {rightTitle.map((t, i) => (
        <Tex key={i} s={t} x={rcx} y={[185, 236, 285][i]} size={42} anchor="middle" fill="#000" />
      ))}
      <Tex s="$f$  [Hz]" x={rcx} y={1670} size={42} anchor="middle" />
      <Tex s="[Variance Hz^{-1}]" x={1608} y={RBOX.y + RBOX.h / 2} size={42} anchor="middle" rotate={-90} />
      <Legend
        box={{ x: 2641, y: 319, w: 253, h: 494 }}
        labels={rightLegendLabels}
        colors={[COL.cyan, COL.lime, COL.blue, COL.orange, COL.yellow, COL.green, COL.black]}
        markers={[0, 0, 0, 0, 0, 0, 0]}
        first={357} step={70.7} lineX={[2653, 2712]} textX={2719} markerX={0}
      />
    </svg>
  );
}
